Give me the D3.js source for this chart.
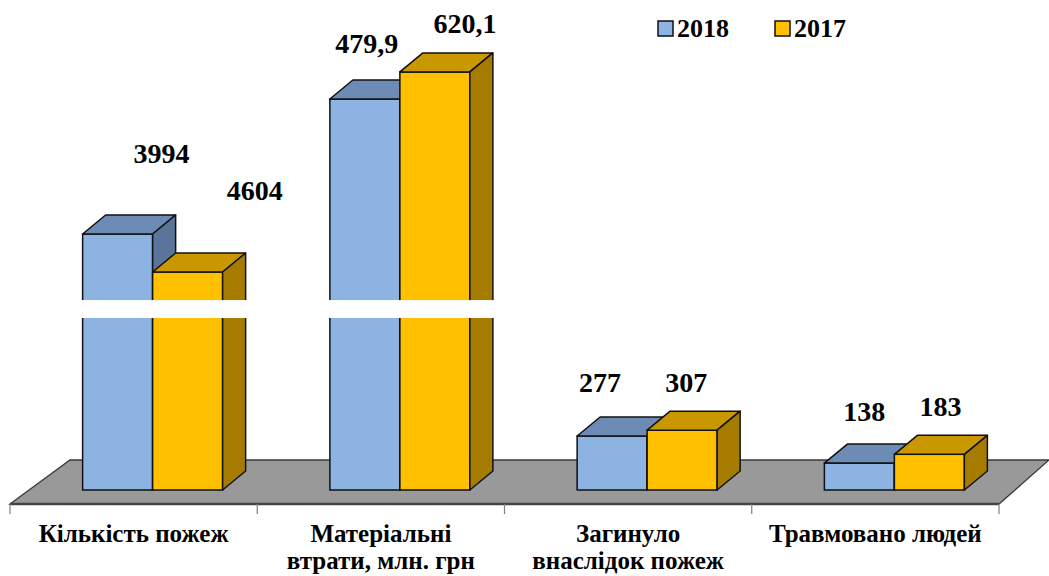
<!DOCTYPE html>
<html>
<head>
<meta charset="utf-8">
<script src="https://cdn.jsdelivr.net/npm/d3@7"></script>
<style>
  html, body { margin: 0; padding: 0; background: #fff; }
  svg { display: block; }
  text { font-family: "Liberation Serif", "Times New Roman", serif; font-weight: bold; fill: #000; }
</style>
</head>
<body>
<svg id="chart" width="1049" height="576"></svg>
<script>
// categories (split on lines as in the picture)
const categories = [
    ["Кількість пожеж"],
    ["Матеріальні", "втрати, млн. грн"],
    ["Загинуло", "внаслідок пожеж"],
    ["Травмовано людей"]
];
const series = ["2018", "2017"];

// values printed above the bars
const labels2018 = [3994, 479.9, 277, 138];
const labels2017 = [4604, 620.1, 307, 183];

// bar heights as drawn in the picture (axis units, axis is broken in the first two groups)
const plotted2018 = [1313, 2005, 277, 138];
const plotted2017 = [1118, 2144, 307, 183];

// axis break band (axis units)
const axisBreak = [882, 974];

const colors = {
    "2018": { front: "#8db3e2", top: "#6c8cb5", side: "#5a7599" },
    "2017": { front: "#ffc000", top: "#c99700", side: "#a67c00" }
};

const W = 1049, H = 576;
const svg = d3.select("#chart");

const floorFront = 504;               // y of floor front edge
const floorLeftDepth = [60, -44];     // floor depth at the left end
const floorRightDepth = [50, -44];    // floor depth at the right end
const barShift = [19, -14];           // bar front plane behind floor front
const barDepth = [23, -19];           // depth of each bar

const x0 = d3.scaleBand().domain(d3.range(categories.length)).range([10, 999]);
const x1 = d3.scaleBand().domain(series).range([0, x0.bandwidth()]).paddingInner(0).paddingOuter(0.766);
const y = d3.scaleLinear().domain([0, 2400]).range([floorFront + barShift[1], floorFront + barShift[1] - 2400 * 0.195]);

const fmt = v => Number.isInteger(v) ? String(v) : String(v).replace(".", ",");

// --- floor
const fl = x0.range()[0], fr = x0.range()[1];
svg.append("polygon")
    .attr("points", [
        [fl, floorFront],
        [fl + floorLeftDepth[0], floorFront + floorLeftDepth[1]],
        [fr + floorRightDepth[0], floorFront + floorRightDepth[1]],
        [fr, floorFront]
    ].map(p => p.join(",")).join(" "))
    .attr("fill", "#999999")
    .attr("stroke", "#3a3a3a")
    .attr("stroke-width", 1.3);
svg.append("line")
    .attr("x1", fl).attr("x2", fr)
    .attr("y1", floorFront).attr("y2", floorFront)
    .attr("stroke", "#444").attr("stroke-width", 2.5);

// category ticks
const tickXs = x0.domain().map(i => x0(i)).concat([fr]);
svg.selectAll(".tick").data(tickXs).join("line")
    .attr("x1", d => d).attr("x2", d => d)
    .attr("y1", floorFront).attr("y2", floorFront + 10)
    .attr("stroke", "#808080").attr("stroke-width", 1.2);

// --- bars
function bar3d(g, x, w, v, c) {
    const yb = y(0), yt = y(v);
    const [dx, dy] = barDepth;
    const pts = a => a.map(p => p.join(",")).join(" ");
    g.append("rect").attr("x", x).attr("y", yt).attr("width", w).attr("height", yb - yt)
        .attr("fill", c.front).attr("stroke", "#111").attr("stroke-width", 1.5);
    g.append("polygon").attr("points", pts([[x, yt], [x + dx, yt + dy], [x + w + dx, yt + dy], [x + w, yt]]))
        .attr("fill", c.top).attr("stroke", "#111").attr("stroke-width", 1.5).attr("stroke-linejoin", "round");
    g.append("polygon").attr("points", pts([[x + w, yt], [x + w + dx, yt + dy], [x + w + dx, yb + dy], [x + w, yb]]))
        .attr("fill", c.side).attr("stroke", "#111").attr("stroke-width", 1.5).attr("stroke-linejoin", "round");
}

// label offsets from the bar's front-top centre (layout, hand placed as in the picture)
const labelOffsets = {
    "2018": [[44, -71], [2, -46], [-12, -44], [5, -42]],
    "2017": [[67, -72], [30, -39], [4, -38], [11, -38]]
};

categories.forEach((cat, i) => {
    const g = svg.append("g");
    const vals = { "2018": plotted2018[i], "2017": plotted2017[i] };
    const labs = { "2018": labels2018[i], "2017": labels2017[i] };
    series.forEach(s => {
        const bx = x0(i) + x1(s) + barShift[0];
        bar3d(g, bx, x1.bandwidth(), vals[s], colors[s]);
    });

    // axis break band
    if (Math.min(vals["2018"], vals["2017"]) > axisBreak[1]) {
        const left = x0(i) + x1(series[0]) + barShift[0] - 3;
        const right = x0(i) + x1(series[1]) + barShift[0] + x1.bandwidth() + barDepth[0] + 3;
        g.append("rect")
            .attr("x", left).attr("width", right - left)
            .attr("y", y(axisBreak[1])).attr("height", y(axisBreak[0]) - y(axisBreak[1]))
            .attr("fill", "#fff");
    }

    series.forEach(s => {
        const cx = x0(i) + x1(s) + barShift[0] + x1.bandwidth() / 2;
        const off = labelOffsets[s][i];
        g.append("text")
            .attr("x", cx + off[0])
            .attr("y", y(vals[s]) + off[1])
            .attr("text-anchor", "middle")
            .style("font-size", "28px")
            .text(fmt(labs[s]));
    });

    // category label
    const t = svg.append("text")
        .attr("text-anchor", "middle")
        .style("font-size", "25px");
    cat.forEach((line, j) => {
        t.append("tspan")
            .attr("x", x0(i) + x0.bandwidth() / 2)
            .attr("y", 542 + j * 27)
            .text(line);
    });
});

// --- legend
const legend = svg.append("g").attr("transform", "translate(658,21)");
series.forEach((s, i) => {
    const lg = legend.append("g").attr("transform", `translate(${i * 117},0)`);
    lg.append("rect").attr("width", 15).attr("height", 15)
        .attr("fill", colors[s].front).attr("stroke", "#111").attr("stroke-width", 1.5);
    lg.append("text").attr("x", 19).attr("y", 16)
        .style("font-size", "26px").text(s);
});
</script>
</body>
</html>
